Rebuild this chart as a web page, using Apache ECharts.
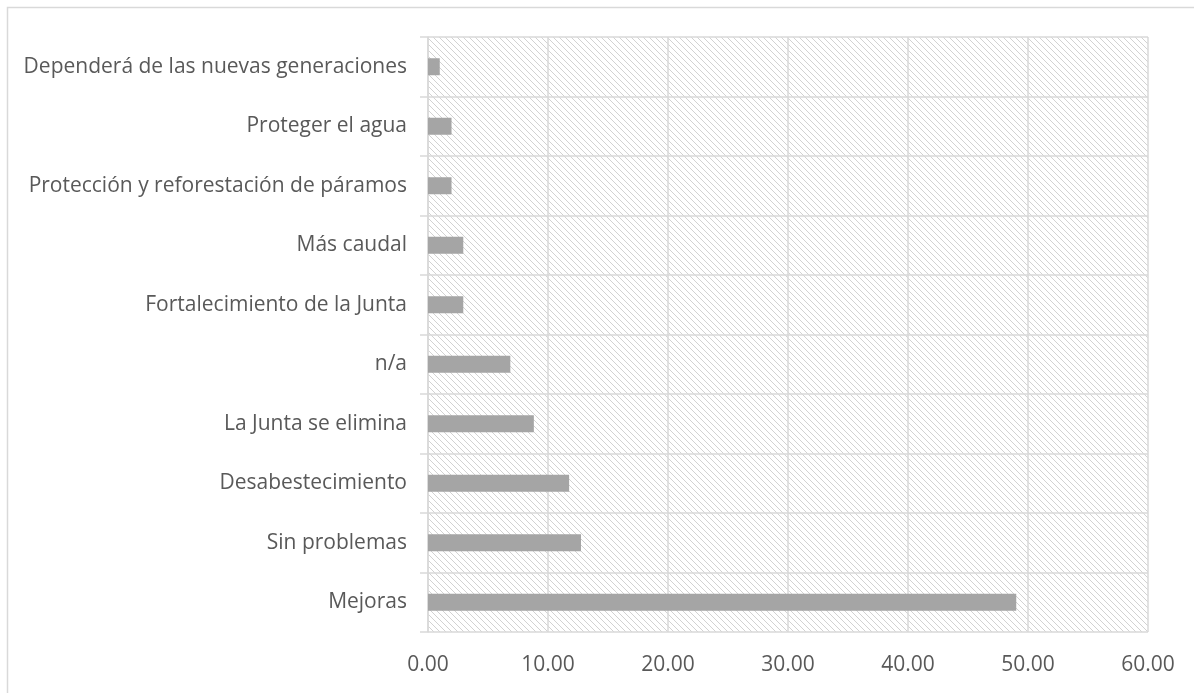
<!DOCTYPE html>
<html>
<head>
<meta charset="utf-8">
<style>
  html, body { margin: 0; padding: 0; background: #ffffff; }
  #chart { width: 1194px; height: 693px; }
</style>
<script src="https://cdn.jsdelivr.net/npm/echarts@6/dist/echarts.min.js"></script>
</head>
<body>
<div id="chart"></div>
<script>
// Categories listed bottom to top, as the y axis draws them
const categories = [
  'Mejoras',
  'Sin problemas',
  'Desabestecimiento',
  'La Junta se elimina',
  'n/a',
  'Fortalecimiento de la Junta',
  'Más caudal',
  'Protección y reforestación de páramos',
  'Proteger el agua',
  'Dependerá de las nuevas generaciones'
];
// Share of answers (%)
const values = [49.02, 12.75, 11.76, 8.82, 6.86, 2.94, 2.94, 1.96, 1.96, 0.98];
// X axis range
const xMin = 0;
const xMax = 60;
const xStep = 10;

// Light downward-diagonal hatch used as plot background
function hatchTile() {
  const n = 6;
  const c = document.createElement('canvas');
  c.width = n; c.height = n;
  const ctx = c.getContext('2d');
  ctx.fillStyle = '#ffffff';
  ctx.fillRect(0, 0, n, n);
  ctx.fillStyle = '#d2d2d2';
  for (let i = 0; i < n; i++) {
    ctx.fillRect(i, i, 1, 1);
  }
  return c;
}

const textColor = '#595959';
const lineColor = '#d9d9d9';
const font = '"Open Sans"';

const chart = echarts.init(document.getElementById('chart'), null, { renderer: 'canvas' });
chart.setOption({
  animation: false,
  backgroundColor: '#ffffff',
  graphic: [{
    type: 'rect',
    shape: { x: 7.5, y: 7.5, width: 1300, height: 800 },
    style: { fill: 'none', stroke: lineColor, lineWidth: 1.5 },
    silent: true,
    z: -1
  }],
  grid: {
    left: 428, right: 46, top: 37, bottom: 61,
    show: true,
    borderWidth: 0,
    backgroundColor: { image: hatchTile(), repeat: 'repeat' }
  },
  xAxis: {
    type: 'value',
    min: xMin, max: xMax, interval: xStep,
    axisLine: { show: false },
    axisTick: { show: false },
    splitLine: { show: true, lineStyle: { color: lineColor, width: 1.5 } },
    axisLabel: {
      color: textColor, fontFamily: font, fontSize: 21, margin: 23,
      formatter: v => v.toFixed(2)
    }
  },
  yAxis: {
    type: 'category',
    data: categories,
    axisLine: { show: true, lineStyle: { color: lineColor, width: 1.5 } },
    axisTick: { show: true, length: 8, lineStyle: { color: lineColor, width: 1.5 } },
    splitLine: { show: true, lineStyle: { color: lineColor, width: 1.5 } },
    axisLabel: { color: textColor, fontFamily: font, fontSize: 21, margin: 21 }
  },
  series: [{
    type: 'bar',
    data: values,
    barWidth: 17,
    itemStyle: { color: '#a5a5a5' },
    silent: true
  }]
});
</script>
</body>
</html>
